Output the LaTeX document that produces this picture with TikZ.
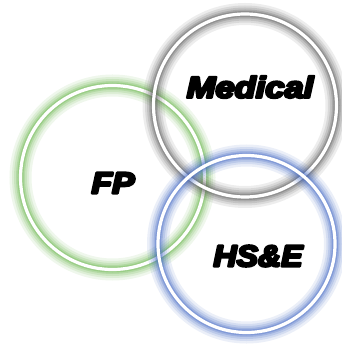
\documentclass[tikz,border=0pt]{standalone}
\usepackage{fontspec}
\newfontfamily\labfont{Liberation Sans Bold Italic}
\newcommand{\heavytext}[1]{\special{pdf:literal direct 0 G 2 Tr 2.4 w 1 j}#1\special{pdf:literal direct 0 Tr}}
\definecolor{glowgreen}{RGB}{100,180,70}
\definecolor{glowgray}{RGB}{85,85,85}
\definecolor{glowblue}{RGB}{60,100,195}
\tikzset{
  lab/.style={font=\labfont\fontsize{30}{30}\selectfont, inner sep=0pt, text=black}
}
\newcommand{\glowcircle}[4]{% x, y, r, colour
  \foreach \w/\o in {22/0.10,17/0.13,13/0.16,9/0.22,6/0.30}{
    \draw[#4, draw opacity=\o, line width=\w pt] (#1,#2) circle[radius=#3];
  }
  \draw[white, line width=3.2pt] (#1,#2) circle[radius=#3];
}
\begin{document}
\begin{tikzpicture}[x=1pt,y=-1pt]
\fill[white] (0,0) rectangle (341,344);
\useasboundingbox (0,0) rectangle (341,344);
\glowcircle{112.5}{177.5}{92}{glowgreen}
\glowcircle{245}{105.5}{91.5}{glowgray}
\glowcircle{246.5}{244}{88.5}{glowblue}
\node[lab] (medical) at (250,87) {\scalebox{1.15}[1]{\heavytext{Medical}}};
\node[lab] (fp) at (113,183) {\scalebox{1.12}[1]{\heavytext{FP}}};
\node[lab] (hse) at (258,256) {\scalebox{1.07}[1]{\heavytext{HS\&E}}};
\end{tikzpicture}
\end{document}
